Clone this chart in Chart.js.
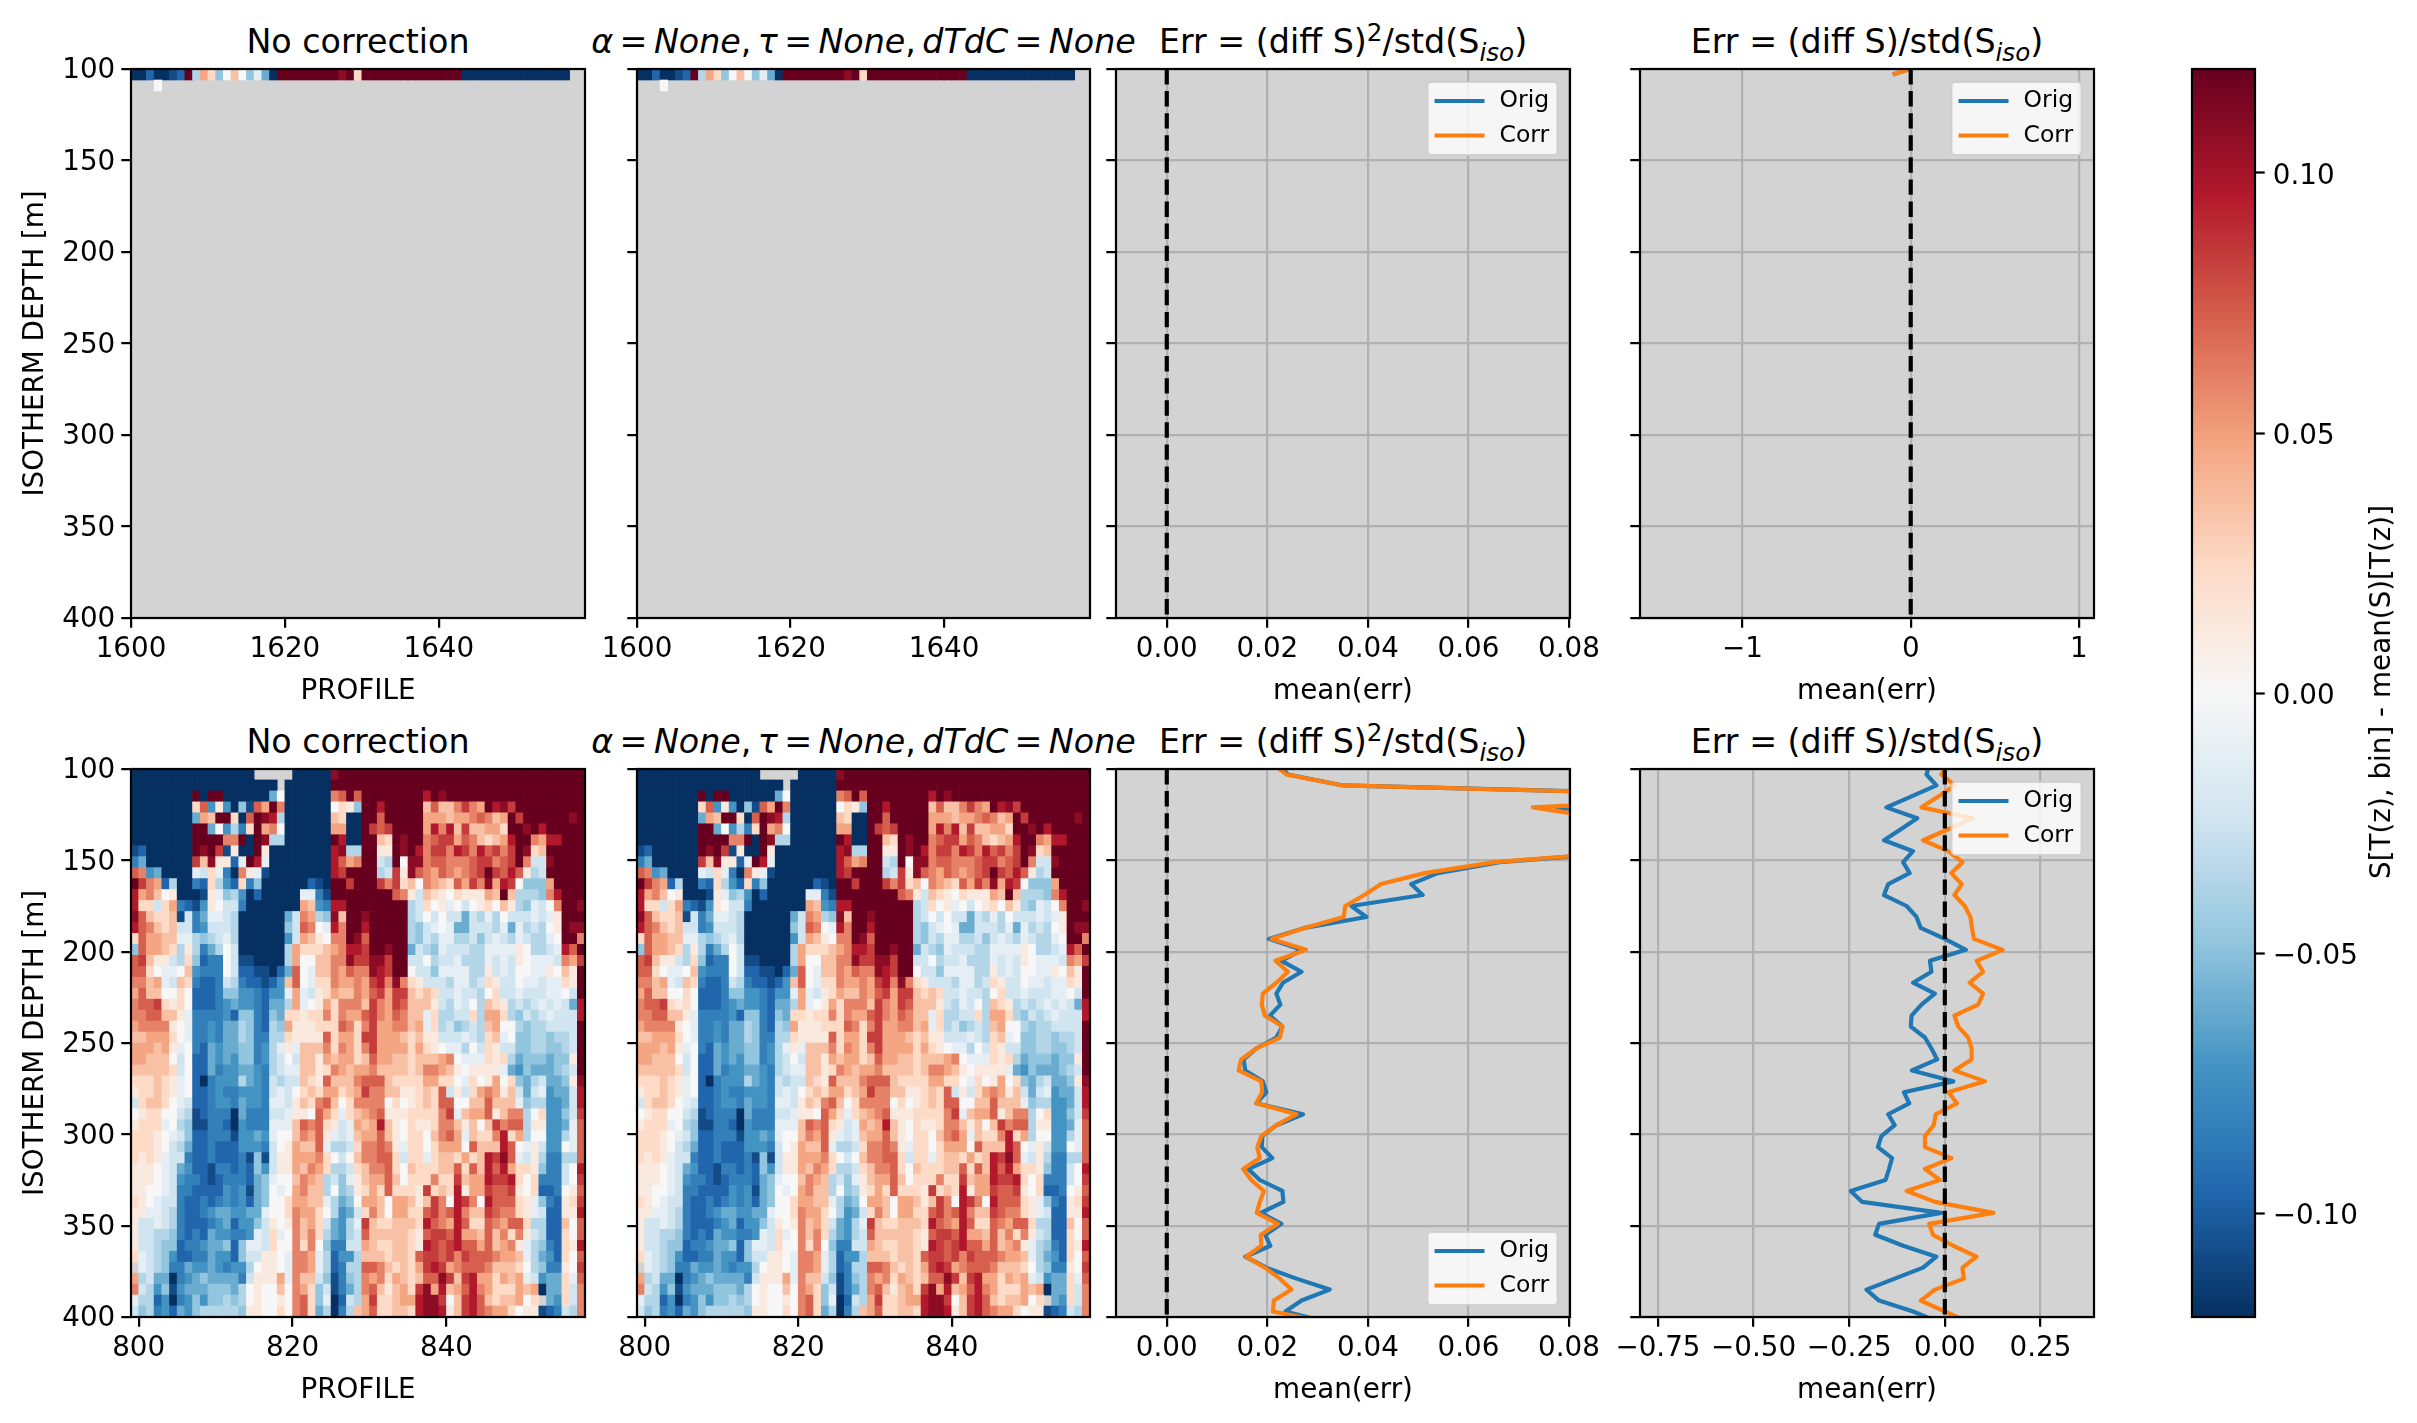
<!DOCTYPE html>
<html>
<head>
<meta charset="utf-8">
<script src="https://cdn.jsdelivr.net/npm/chart.js@4"></script>
<style>
    html, body { margin: 0; padding: 0; background: #fff; }
    #figure { position: relative; width: 2417px; height: 1423px; overflow: hidden; font-family: 'DejaVu Sans', sans-serif; color: #000; }
    #figure canvas { position: absolute; }
    .title { position: absolute; white-space: nowrap; font-size: 33.3px; line-height: 40px; transform: translateX(-50%); }
    .title sub, .title sup { font-size: 74%; line-height: 0; }
    .title i { font-style: italic; }
    .title.math { word-spacing: -4.2px; }
    #cbar-label { position: absolute; white-space: nowrap; font-size: 27.8px; line-height: 30px; transform: translate(-50%, -50%) rotate(-90deg); }
</style>
</head>
<body>
<div id="figure"></div>
<script>
// colour levels, a = -0.12 ... u = +0.12 in steps of 0.012, '.' = no data
const levelCodes = 'abcdefghijklmnopqrstu';
const levelColors = ['#053061', '#134b87', '#2166ac', '#327fb9', '#4393c3', '#6aacd0', '#92c5de', '#b2d5e7', '#d1e5f0', '#e4eef4', '#f7f7f7',
    '#fae9df', '#fddbc7', '#f8c0a4', '#f4a582', '#e58267', '#d6604d', '#c43c3c', '#b2182b', '#8c0c25', '#67001f'];
const levelMin = -0.12;
const levelStep = 0.012;

const topProfileStart = 1600;
const bottomProfileStart = 799;
const binStart = 100;
const binSize = 6;

// only the first two depth bins of the upper profiles have data
const topRows = [
    'aacaabcuhomgknkgjfauuuuuuuutumuuuuuuuuuuuuuaaaaaaaaaaaaaa..',
    '...k.......................................................',
];

const bottomRows = [
    'aaaaaaaaaaaaaaaa.....aaaaatuuuuuuuuuuuuuuuuuuuuuuuuuuuuuuuu',
    'aaaaaaaaaaaaaaaaaaa.aaaaaauuuuuuuuuuuuuuuuuuuuuuuuuuuuuuuuu',
    'aaaaaaaauauuaaaaaafkaaaaaapququuuuuuuusutuuuuuuuuuuuuuuuuuu',
    'aaaaaaaamqeleagbqoupaaaaaakmlguusuuuuunqnnprpoustruuuuuuuuu',
    'aaaaaaaafonuumaqutshaaaaaanmaauuquuuuuooonoopqpnouruuuuuutu',
    'aaaaaaaauufkehdmuopkaaaaaaooaaurqruuuuospsnrnnoomuutusuuuuu',
    'aaaaaaaauuuuppuauthhaaaaaausaauunmutuupqrroqpnmnosuuposSuuu',
    'bcaaaaaauturblaaulaaaaaaaasthhuullutusprrpsrpsqrprutmnuuuuu',
    'dfaaaaaarntllcjusjaaaaaaaasqopuuihukttpqqpppqrrpqrupiituuuu',
    'qpefaaaajimjdapljbaaaaaaaasruuuuhirltqpoqpopqrurqsqlhiuuuuu',
    'urpochaadcmhecmdgaaaaaacbauuruuurprmnkponmqorptosrkgggouuuu',
    'sopnklaaabljgheacaaaaajjdbuuuuuuuuqplinmlkmlllonunhhhgpsuuu',
    'smmimodcbelkiidaaaaaaaonedssuuuuuuuuhimkljkiklmknlhgjikpuut',
    'tqnmmnbidfjjihaaaaaafipohgtnuutuuuuuhikikiifihjhkiiijijluuu',
    'sqpnmniideiiihaaaaaagiqpkjspuusuuuuuhgijkjffiiihjfjhihklutt',
    'mqoonnjjhghijhaaaaaaeionlkpputquuuuuhgihjjhhigijihjihhjkuup',
    'gqoonmhlhdfhkiaaaaaahommmnopssruutuufihgjiiihhjjjjlkhhijsqu',
    'qrnllihmgcddkibbaaaahokknnpptrrttruuiikhiijhhhjijilkjjjipor',
    'qqmkjjknedddkiccbbacfqkjnnpoqpptsruukiigjjjjhhlijikkjjlknlu',
    'ppnojinmdccdihdccbcenqkjmmpooporsptpmliiihjjhimliikjjijjmlu',
    'oqnnkkmkcccdggeedceejojilmonnpoqrorrnmnmiijiihkmiijiiijjkiu',
    'pqqrmlmkcccdefeedcffhojklompppnrporqnnnlihjikhnmlhihijijifs',
    'ppqqnnljddddecggdcgfmmlmmpmpooqrpoqpnnjmhhiimhoomhgihijiiis',
    'opppplkjddedffhgdchgolllmmmqpmprooppnojmhighihnokkhghhiiiiu',
    'nnooomkjddedffhgddhhmllllqmoomrrooonmnlliiijihmnjkgghhghhiu',
    'ooonoljkdcfeffggdehjljnnnpmpomproooomomlkjjhkimliigghhgghiu',
    'oonnnkikccfefeggdehikinnlonoomnqoonnmnnnopkjjjmlmhfgggfgglu',
    'nnnnnmikccfdeeffedhijjnnlmponoopnnnnmnpponlklllljfegfffghiu',
    'mmmnmljkcadeeehfedihiinmlqnnnpqqqnmmmmoommkjmklokmgfhiffglt',
    'lmmnmljkccdeddeeedijikmnmoomnorppnnllmnmqilimopolnifijeffis',
    'imnnmkjiccdeedfeedjjilnmpqnkmppppkmklmnmqqkknnqnnnjghheefis',
    'klmmkkihbcdddafdddiijllkqomjmnopqlllmmmmprjnooqlnpphkmeegir',
    'lmmmjkhgbbddcaedddjjjnqpqmlijonosnlkmllmppnlnknrpqqhlleefjq',
    'mmmlkjigccdddbeefejkknpoqljijnooqnlkmmknpqojnmmpsmohkkeehjq',
    'mmmlkihfccdccceeediklonnqjhhimppqpljmmkmoookqnnnsqkjlieekjq',
    'mlmljiidccdcccdbgbillooopmkiknppqqmimmjmnnmomnsrtqjilhddhhq',
    'lllkjifeccbddcdcgeillonpomhhimnppqmknmmmnnqmqnsqsommlgddiks',
    'lllkjieddcbcdddcfgjkknponhigjlnooqnkmmmpmmrnoosrrsmkmdddikr',
    'llkkjiddccccedebfgkjkopnnhkghlmomqmmmlrmnmsloorqqrlkmccdklq',
    'mlkjiidccdcdedecfgkkmoonnjhfgkoonkoonlnrpksrpksqqqmljgdclmr',
    'lljjihdccdeffeeffjkkmpoomkhefimpnkoommqrpqspnnrqppmljicclls',
    'liijihdcccdefceegilklpnomifehjrnmmnnnmsqposqmmqpoqqmhhccnkq',
    'liihhgdcdcfeeddejimjkpnpmhfehiqnnnnnmlqrrqsoonqnpmplihccmkq',
    'liihggcddeffgcgjjimkkpmpkgddiionmmnnmlsrqrsqqoqnopljhgdcmls',
    'mjihgeccddfeecgiillkjppojhceehnnnmnnmqrrqrprqqqpoonjhfecmkq',
    '.jihgddfeefedeehkllkjppojhcdhhqqpnmnmorsropqqqpnnnmkhgddlkr',
    'ohiffadefgffffdilllojpnnigbdghpopmonmnqqtrnrsoomonojieffmjq',
    'pihegbefffgggfhklkknkpomgibdfhpqnlnomrtosnoqspommmonoaffmip',
    'jhhceadegegghghklkklkpqmgjacihormmnoosttrknrsqnmnnokm.femip',
    'ighdecfeghhhhhgllkkmkpqmfhadhnoqmmnnmsttslnrsqpoomkllbcdihp',
].map((line) => line.toLowerCase());

// depth of each line point, the first and last lie just outside the axis
const lineDepths = [97, 103, 109, 115, 121, 127, 133, 139, 145, 151, 157, 163, 169, 175, 181, 187, 193, 199, 205, 211, 217, 223, 229, 235, 241, 247,
    253, 259, 265, 271, 277, 283, 289, 295, 301, 307, 313, 319, 325, 331, 337, 343, 349, 355, 361, 367, 373, 379, 385, 391, 397, 403];

const squaredErrOrig = [0.022, 0.0241, 0.035, 0.122, 0.0777, 0.095, 0.13, 0.12, 0.0935, 0.0662, 0.0539, 0.0486, 0.0509, 0.0367, 0.0397, 0.0274, 0.0203, 0.0268,
    0.0228, 0.0268, 0.0231, 0.0218, 0.0226, 0.0205, 0.023, 0.0218, 0.0178, 0.0153, 0.0156, 0.0191, 0.0198, 0.0178, 0.0271, 0.0218, 0.019, 0.0189,
    0.021, 0.0162, 0.0185, 0.023, 0.0232, 0.0187, 0.0228, 0.0196, 0.0206, 0.0156, 0.0198, 0.0258, 0.0324, 0.0268, 0.0236, 0.0321];
const squaredErrCorr = [0.021, 0.0238, 0.035, 0.12, 0.0728, 0.0868, 0.13, 0.12, 0.093, 0.0652, 0.0513, 0.0426, 0.0393, 0.0355, 0.0352, 0.0274, 0.0208, 0.0277,
    0.0216, 0.0241, 0.0218, 0.0191, 0.0189, 0.0195, 0.023, 0.0225, 0.0178, 0.0148, 0.0143, 0.0188, 0.019, 0.0178, 0.0258, 0.0218, 0.0188, 0.018,
    0.0185, 0.0152, 0.0168, 0.0193, 0.0185, 0.0179, 0.0221, 0.0187, 0.0188, 0.0158, 0.0195, 0.0225, 0.0248, 0.0213, 0.0211, 0.032];
const relErrOrig = [-0.039, -0.048, -0.022, -0.087, -0.153, -0.072, -0.115, -0.159, -0.083, -0.109, -0.092, -0.148, -0.159, -0.1, -0.074, -0.063, 0, 0.055,
    -0.039, -0.035, -0.083, -0.026, -0.061, -0.087, -0.089, -0.052, -0.035, -0.02, -0.086, 0.022, -0.107, -0.093, -0.148, -0.131, -0.166, -0.175,
    -0.138, -0.146, -0.155, -0.246, -0.216, -0.01, -0.172, -0.182, -0.109, -0.022, -0.057, -0.131, -0.205, -0.172, -0.083, -0.013];
const relErrCorr = [0.009, -0.009, 0.026, -0.017, -0.061, 0.074, 0.009, -0.057, 0.009, 0.046, 0.017, 0.044, 0.025, 0.052, 0.067, 0.071, 0.076, 0.151,
    0.083, 0.1, 0.065, 0.1, 0.087, 0.025, 0.035, 0.061, 0.07, 0.07, 0.025, 0.105, 0.009, 0.032, -0.024, -0.029, -0.052, -0.052,
    0.017, -0.052, -0.013, -0.1, -0.026, 0.127, -0.041, -0.031, 0.022, 0.083, 0.046, 0.05, -0.026, -0.063, 0, 0.065];

// upper right panel: only a short stub above the first missing bin
const topLineDepths = [97, 103];
const topRelErrOrig = [0.1, -0.107];
const topRelErrCorr = [0.1, -0.107];

const depthTicks = [100, 150, 200, 250, 300, 350, 400];
const topProfileTicks = [1600, 1620, 1640];
const bottomProfileTicks = [800, 820, 840];
const squaredErrTicks = [0, 0.02, 0.04, 0.06, 0.08];
const topRelErrTicks = [-1, 0, 1];
const bottomRelErrTicks = [-0.75, -0.5, -0.25, 0, 0.25];
const colorbarTicks = [-0.1, -0.05, 0, 0.05, 0.1];

// the original was saved at 200 dpi
const PX = 200 / 72;
const tickFont = { family: 'DejaVu Sans', size: 10 * PX };
const chartColors = { orig: '#1f77b4', corr: '#ff7f0e', panel: '#d3d3d3', grid: '#b0b0b0' };

const columns = [{ left: 131, width: 454 }, { left: 637, width: 453 }, { left: 1116, width: 454 }, { left: 1640, width: 454 }];
const rows = [{ top: 69, height: 549 }, { top: 769, height: 548 }];
const MARGIN = { left: 125, right: 45, top: 30, bottom: 94 };

const figure = document.getElementById('figure');

function signedTick(digits) {
    return (value) => value.toFixed(digits).replace('-', '\u2212');
}

// panel background, outer frame and the little legend box matplotlib puts inside the axes
const panelChrome = {
    id: 'panelChrome',
    beforeDraw(chart, args, opts) {
        const { ctx, chartArea: a } = chart;
        if (opts.fill) {
            ctx.fillStyle = opts.fill;
            ctx.fillRect(a.left, a.top, a.width, a.height);
        }
    },
    afterDatasetsDraw(chart, args, opts) {
        if (opts.legend) drawInsetLegend(chart, opts.legend);
    },
    afterDraw(chart) {
        const { ctx, chartArea: a } = chart;
        ctx.save();
        ctx.strokeStyle = '#000';
        ctx.lineWidth = 0.8 * PX;
        ctx.strokeRect(a.left, a.top, a.width, a.height);
        ctx.restore();
    },
};

function drawInsetLegend(chart, corner) {
    const { ctx, chartArea: a } = chart;
    const w = 130;
    const h = 73;
    const x = a.right - 12.5 - w;
    const y = corner === 'top' ? a.top + 13 : a.bottom - 12 - h;
    ctx.save();
    ctx.beginPath();
    ctx.roundRect(x, y, w, h, 4);
    ctx.fillStyle = 'rgba(255,255,255,0.8)';
    ctx.fill();
    ctx.strokeStyle = 'rgba(204,204,204,0.8)';
    ctx.lineWidth = 2;
    ctx.stroke();
    ctx.font = "23.5px 'DejaVu Sans'";
    ctx.textBaseline = 'middle';
    chart.data.datasets.filter((d) => d.label).forEach((d, i) => {
        const ly = y + 19 + i * 34.5;
        ctx.strokeStyle = d.borderColor;
        ctx.lineWidth = d.borderWidth;
        ctx.beginPath();
        ctx.moveTo(x + 7, ly);
        ctx.lineTo(x + 57, ly);
        ctx.stroke();
        ctx.fillStyle = '#000';
        ctx.fillText(d.label, x + 72, ly);
    });
    ctx.restore();
}

function placeCanvas(left, top, width, height) {
    const canvas = document.createElement('canvas');
    canvas.width = width;
    canvas.height = height;
    canvas.style.left = left + 'px';
    canvas.style.top = top + 'px';
    figure.appendChild(canvas);
    return canvas;
}

function xAxis({ min, max, ticks, format, title, grid }) {
    return {
        type: 'linear',
        min,
        max,
        offset: false,
        afterBuildTicks(axis) { axis.ticks = ticks.map((value) => ({ value })); },
        afterFit(axis) { axis.height = MARGIN.bottom; },
        grid: { offset: false, color: chartColors.grid, lineWidth: 0.8 * PX, drawOnChartArea: grid, tickColor: '#000', tickWidth: 0.8 * PX, tickLength: 3.5 * PX },
        border: { display: false },
        ticks: { font: tickFont, color: '#000', padding: 5, maxRotation: 0, autoSkip: false, callback: format },
        title: { display: Boolean(title), text: title, font: tickFont, color: '#000', padding: { top: 0, bottom: 4 } },
    };
}

function yAxis({ labelled, grid }) {
    return {
        type: 'linear',
        reverse: true,
        min: 100,
        max: 400,
        afterBuildTicks(axis) { axis.ticks = depthTicks.map((value) => ({ value })); },
        afterFit(axis) { axis.width = MARGIN.left; },
        grid: { color: chartColors.grid, lineWidth: 0.8 * PX, drawOnChartArea: grid, tickColor: '#000', tickWidth: 0.8 * PX, tickLength: 3.5 * PX },
        border: { display: false },
        ticks: { display: labelled, font: tickFont, color: '#000', padding: 6, labelOffset: 2, autoSkip: false, callback: (value) => String(value) },
        title: { display: labelled, text: 'ISOTHERM DEPTH [m]', font: tickFont, color: '#000', padding: { top: 13, bottom: 0 } },
    };
}

function addPanel(col, row, config, chrome) {
    const c = columns[col];
    const r = rows[row];
    const canvas = placeCanvas(c.left - MARGIN.left, r.top - MARGIN.top,
        c.width + MARGIN.left + MARGIN.right, r.height + MARGIN.top + MARGIN.bottom);
    return new Chart(canvas, {
        ...config,
        options: {
            ...config.options,
            responsive: false,
            animation: false,
            events: [],
            layout: { padding: { top: MARGIN.top, right: MARGIN.right, left: 0, bottom: 0 } },
            plugins: { legend: { display: false }, tooltip: { enabled: false }, panelChrome: chrome },
        },
        plugins: [panelChrome],
    });
}

function heatmapCells(codes, firstProfile) {
    const cells = [];
    codes.forEach((line, r) => {
        [...line].forEach((code, c) => {
            if (code === '.') return;
            const top = binStart + r * binSize;
            cells.push({ x: firstProfile + c + 0.5, y: [top, top + binSize], v: levelMin + levelCodes.indexOf(code) * levelStep });
        });
    });
    return cells;
}

function buildHeatmap(col, row, codes, firstProfile, ticks, xTitle) {
    const span = codes[0].length;
    addPanel(col, row, {
        type: 'bar',
        data: {
            datasets: [{
                data: heatmapCells(codes, firstProfile),
                backgroundColor: (ctx) => levelColors[Math.round((ctx.raw.v - levelMin) / levelStep)],
                borderWidth: 0,
                barPercentage: 1,
                categoryPercentage: 1,
            }],
        },
        options: {
            scales: {
                x: xAxis({ min: firstProfile, max: firstProfile + span, ticks, format: (v) => String(v), title: xTitle, grid: false }),
                y: yAxis({ labelled: col === 0, grid: false }),
            },
        },
    }, { fill: chartColors.panel });
}

function toPoints(xs, ys) {
    return xs.map((x, i) => ({ x, y: ys[i] }));
}

function buildErrorPanel(col, row, depths, orig, corr, limits, ticks, format, legendCorner) {
    const line = (label, values, color, order) => ({
        label,
        data: toPoints(values, depths),
        borderColor: color,
        borderWidth: 1.5 * PX,
        borderJoinStyle: 'round',
        pointRadius: 0,
        showLine: true,
        tension: 0,
        order,
    });
    addPanel(col, row, {
        type: 'scatter',
        data: {
            datasets: [
                line('Orig', orig, chartColors.orig, 2),
                line('Corr', corr, chartColors.corr, 1),
                {
                    data: [{ x: 0, y: 100 }, { x: 0, y: 400 }],
                    borderColor: '#000',
                    borderWidth: 1.5 * PX,
                    borderDash: [3.7 * 1.5 * PX, 1.6 * 1.5 * PX],
                    pointRadius: 0,
                    showLine: true,
                    order: 0,
                },
            ],
        },
        options: {
            scales: {
                x: xAxis({ min: limits[0], max: limits[1], ticks, format, title: 'mean(err)', grid: true }),
                y: yAxis({ labelled: false, grid: true }),
            },
        },
    }, { fill: chartColors.panel, legend: legendCorner });
}

function addTitle(col, row, html, extraClass) {
    const div = document.createElement('div');
    div.className = extraClass ? 'title ' + extraClass : 'title';
    div.style.left = (columns[col].left + columns[col].width / 2) + 'px';
    div.style.top = (rows[row].top - 47) + 'px';
    div.innerHTML = html;
    figure.appendChild(div);
}

function buildColorbar() {
    const left = 2192;
    const width = 63;
    const canvas = placeCanvas(left - 5, 39, width + 5 + 130, 1248 + 60);
    new Chart(canvas, {
        type: 'bar',
        data: {
            labels: [''],
            datasets: [{
                data: [[levelMin, -levelMin]],
                barPercentage: 1,
                categoryPercentage: 1,
                borderWidth: 0,
                backgroundColor(ctx) {
                    const a = ctx.chart.chartArea;
                    if (!a) return levelColors[0];
                    const gradient = ctx.chart.ctx.createLinearGradient(0, a.bottom, 0, a.top);
                    levelColors.forEach((color, i) => gradient.addColorStop(i / (levelColors.length - 1), color));
                    return gradient;
                },
            }],
        },
        options: {
            responsive: false,
            animation: false,
            events: [],
            layout: { padding: { left: 5, top: 30, bottom: 30 } },
            scales: {
                x: { display: false },
                y: {
                    position: 'right',
                    min: levelMin,
                    max: -levelMin,
                    afterBuildTicks(axis) { axis.ticks = colorbarTicks.map((value) => ({ value })); },
                    afterFit(axis) { axis.width = 130; },
                    grid: { drawOnChartArea: false, tickColor: '#000', tickWidth: 0.8 * PX, tickLength: 3.5 * PX },
                    border: { display: false },
                    ticks: { font: tickFont, color: '#000', padding: 8, labelOffset: 4, callback: signedTick(2) },
                },
            },
            plugins: { legend: { display: false }, tooltip: { enabled: false }, panelChrome: {} },
        },
        plugins: [panelChrome],
    });
    const label = document.createElement('div');
    label.id = 'cbar-label';
    label.style.left = '2381px';
    label.style.top = '692px';
    label.textContent = 'S[T(z), bin] - mean(S)[T(z)]';
    figure.appendChild(label);
}

const correctionTitle = '<i>\u03b1</i> = <i>None</i>, <i>\u03c4</i> = <i>None</i>, <i>dTdC</i> = <i>None</i>';
const squaredErrTitle = 'Err = (diff S)<sup>2</sup>/std(S<sub><i>iso</i></sub>)';
const relErrTitle = 'Err = (diff S)/std(S<sub><i>iso</i></sub>)';

[0, 1].forEach((row) => {
    addTitle(0, row, 'No correction');
    addTitle(1, row, correctionTitle, 'math');
    addTitle(2, row, squaredErrTitle);
    addTitle(3, row, relErrTitle);
});

buildHeatmap(0, 0, topRows, topProfileStart, topProfileTicks, 'PROFILE');
buildHeatmap(1, 0, topRows, topProfileStart, topProfileTicks, '');
buildHeatmap(0, 1, bottomRows, bottomProfileStart, bottomProfileTicks, 'PROFILE');
buildHeatmap(1, 1, bottomRows, bottomProfileStart, bottomProfileTicks, '');

const squaredLimits = [-0.0101, 0.0802];
buildErrorPanel(2, 0, [], [], [], squaredLimits, squaredErrTicks, signedTick(2), 'top');
buildErrorPanel(3, 0, topLineDepths, topRelErrOrig, topRelErrCorr, [-1.61, 1.09], topRelErrTicks, signedTick(0), 'top');
buildErrorPanel(2, 1, lineDepths, squaredErrOrig, squaredErrCorr, squaredLimits, squaredErrTicks, signedTick(2), 'bottom');
buildErrorPanel(3, 1, lineDepths, relErrOrig, relErrCorr, [-0.797, 0.39], bottomRelErrTicks, signedTick(2), 'top');

buildColorbar();
</script>
</body>
</html>
